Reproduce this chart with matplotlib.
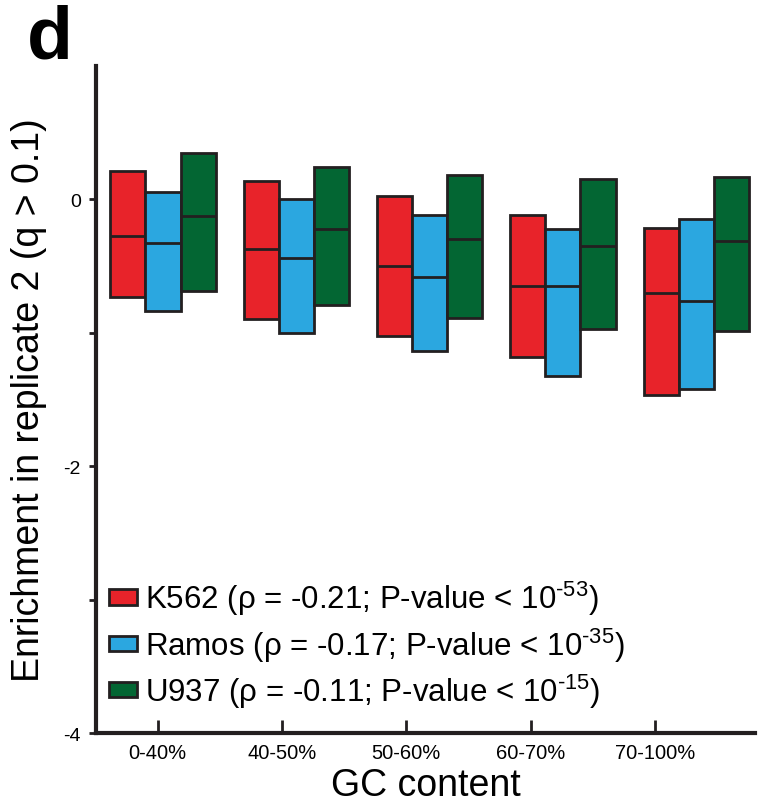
import numpy as np
import matplotlib
matplotlib.use("Agg")
import matplotlib.pyplot as plt
from matplotlib.patches import Patch

plt.rcParams['font.family'] = ['Liberation Sans', 'DejaVu Sans']
plt.rcParams['mathtext.fontset'] = 'custom'
plt.rcParams['mathtext.rm'] = 'Liberation Sans'
plt.rcParams['mathtext.it'] = 'Liberation Sans'
plt.rcParams['mathtext.default'] = 'regular'

# GC-content bins
categories = ["0-40%", "40-50%", "50-60%", "60-70%", "70-100%"]
series = ["K562", "Ramos", "U937"]
legend_labels = [
    r"K562 (ρ = -0.21; P-value < 10$^{\text{-53}}$)",
    r"Ramos (ρ = -0.17; P-value < 10$^{\text{-35}}$)",
    r"U937 (ρ = -0.11; P-value < 10$^{\text{-15}}$)",
]

# Box statistics per cell line: upper quartile, median, lower quartile
k562_q3 = [0.215, 0.14, 0.022, -0.12, -0.215]
k562_med = [-0.272, -0.37, -0.50, -0.648, -0.703]
k562_q1 = [-0.735, -0.895, -1.025, -1.185, -1.47]

ramos_q3 = [0.058, 0.0, -0.118, -0.223, -0.148]
ramos_med = [-0.33, -0.443, -0.58, -0.648, -0.763]
ramos_q1 = [-0.835, -1.003, -1.133, -1.325, -1.423]

u937_q3 = [0.35, 0.24, 0.18, 0.15, 0.167]
u937_med = [-0.125, -0.225, -0.30, -0.348, -0.315]
u937_q1 = [-0.685, -0.79, -0.888, -0.97, -0.988]

# positions of the category tick marks along the x axis
tick_positions = [-0.04, 0.89, 1.82, 2.76, 3.69]

colors = ["#E8232A", "#2BA7E0", "#036633"]
edge = "#231F20"

fig = plt.figure(figsize=(7.61, 8.03), dpi=100)
ax = fig.add_axes([0.1261, 0.0859, 0.8659, 0.8307])

x = np.arange(len(categories))
width = 0.263
offsets = [-width, 0.0, width]
stats = [(k562_q1, k562_med, k562_q3),
         (ramos_q1, ramos_med, ramos_q3),
         (u937_q1, u937_med, u937_q3)]

for (q1, med, q3), off, col in zip(stats, offsets, colors):
    q1 = np.array(q1); q3 = np.array(q3); med = np.array(med)
    xs = x + off
    ax.bar(xs, q3 - q1, bottom=q1, width=width, color=col,
           edgecolor=edge, linewidth=2.0, zorder=2)
    ax.hlines(med, xs - width / 2, xs + width / 2, colors=edge,
              linewidth=2.0, zorder=3)

ax.set_xlim(-0.503, 4.44)
ax.set_ylim(-4, 1.0)

ax.set_yticks([0, -1, -2, -3, -4])
ax.set_yticklabels(["0", "", "-2", "", "-4"])
ax.set_xticks(tick_positions)
ax.set_xticklabels(categories)

for side in ["top", "right"]:
    ax.spines[side].set_visible(False)
for side in ["left", "bottom"]:
    ax.spines[side].set_linewidth(3.0)
    ax.spines[side].set_color(edge)

ax.tick_params(axis="y", direction="out", length=5, width=2.0,
               color=edge, labelsize=14, pad=6)
ax.tick_params(axis="x", direction="in", length=9.5, width=2.0,
               color=edge, labelsize=14.5, pad=7)

ax.set_ylabel("Enrichment in replicate 2 (q > 0.1)", fontsize=27, labelpad=12)
ax.set_xlabel("GC content", fontsize=27, labelpad=4)

handles = [Patch(facecolor=c, edgecolor=edge, linewidth=2.0) for c in colors]
ax.legend(handles, legend_labels, loc="lower left",
          bbox_to_anchor=(0.02, 0.035), frameon=False, fontsize=22.5,
          handlelength=0.88, handleheight=0.4, handletextpad=0.28,
          labelspacing=0.25, borderaxespad=0.0, borderpad=0.0)

fig.text(0.035, 0.995, "d", fontsize=54, fontweight="bold", va="top", ha="left")

fig.savefig("out.png", dpi=100)
